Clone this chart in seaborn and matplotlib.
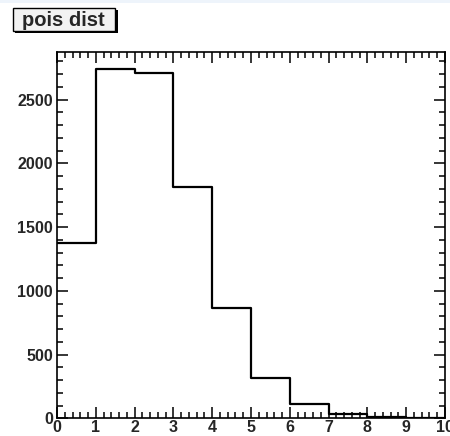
import matplotlib
matplotlib.use("Agg")
import matplotlib.pyplot as plt
import matplotlib.patches as mpatches
from matplotlib.ticker import MultipleLocator
import seaborn as sns

# bin edges and counts
bin_edges = [0, 1, 2, 3, 4, 5, 6, 7, 8, 9, 10]
counts = [1377, 2737, 2708, 1812, 865, 314, 112, 31, 8, 1]
title = "pois dist"

centers = [(a + b) / 2 for a, b in zip(bin_edges[:-1], bin_edges[1:])]

sns.set_style("ticks")
plt.rcParams['font.family'] = ['Liberation Sans', 'DejaVu Sans']

W, H = 450, 436
fig = plt.figure(figsize=(W / 100, H / 100), dpi=100)
ax = fig.add_axes([57 / W, (H - 418.3) / H, 388 / W, (418.3 - 52) / H])

sns.histplot(x=centers, weights=counts, bins=bin_edges, element="step",
             fill=False, color="black", linewidth=1.6, ax=ax)

ax.set_xlim(0, 10)
ax.set_ylim(0, max(counts) * 1.05)
ax.set_xlabel("")
ax.set_ylabel("")

ax.xaxis.set_major_locator(MultipleLocator(1))
ax.xaxis.set_minor_locator(MultipleLocator(0.2))
ax.yaxis.set_major_locator(MultipleLocator(500))
ax.yaxis.set_minor_locator(MultipleLocator(100))
ax.tick_params(which="both", direction="in", top=True, right=True,
               width=1.1, color="black")
ax.tick_params(which="major", length=8)
ax.tick_params(which="minor", length=4)
ax.tick_params(axis="y", pad=3, labelsize=11.5)
ax.tick_params(axis="x", pad=1.5, labelsize=11.5)
for lab in ax.get_xticklabels() + ax.get_yticklabels():
    lab.set_fontweight("bold")
for s in ax.spines.values():
    s.set_linewidth(1.2)
    s.set_color("black")

# faint strip along the top edge
fig.patches.append(mpatches.Rectangle((0, 1 - 3 / H), 1, 3 / H, transform=fig.transFigure,
                                      facecolor="#eef4fb", edgecolor="none", zorder=0))

# title box with shadow, ROOT style
def px_rect(x0, y0, x1, y1, **kw):
    return mpatches.Rectangle((x0 / W, 1 - y1 / H), (x1 - x0) / W, (y1 - y0) / H,
                              transform=fig.transFigure, **kw)

fig.patches.append(px_rect(14.5, 10.5, 117.5, 33.5, facecolor="black", edgecolor="none", zorder=2))
fig.patches.append(px_rect(12.5, 8.5, 115.5, 31.5, facecolor="#f2f2f2", edgecolor="black",
                           linewidth=1.0, zorder=3))
fig.text(63 / W, 1 - 20.5 / H, title, ha="center", va="center", fontsize=14.5,
         fontweight="bold", zorder=4)

fig.savefig("out.png", dpi=100)
